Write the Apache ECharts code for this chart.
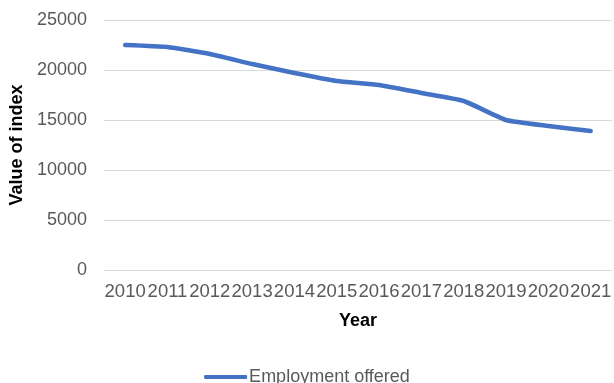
<!DOCTYPE html>
<html>
<head>
<meta charset="utf-8">
<script src="https://cdn.jsdelivr.net/npm/echarts@6/dist/echarts.min.js"></script>
<style>html,body{margin:0;padding:0;background:#fff}#c{width:614px;height:383px}</style>
</head>
<body>
<div id="c"></div>
<script>
var years = ['2010','2011','2012','2013','2014','2015','2016','2017','2018','2019','2020','2021'];
var employmentOffered = [22500, 22300, 21600, 20600, 19700, 18900, 18500, 17700, 16900, 15000, 14400, 13900];
var seriesName = 'Employment offered';
var yMin = 0, yMax = 25000, yStep = 5000;

var chart = echarts.init(document.getElementById('c'));
chart.setOption({
  animation: false,
  textStyle: { fontFamily: 'Liberation Sans, Arial, sans-serif' },
  grid: { left: 104, right: -4, top: 20, bottom: 113, containLabel: false },
  legend: {
    data: [{ name: seriesName, icon: 'roundRect' }],
    left: 'center',
    top: 363,
    itemWidth: 43,
    itemHeight: 4,
    textStyle: { fontSize: 18, color: '#595959', fontFamily: 'Liberation Sans, Arial, sans-serif', padding: [0, 0, 0, -3] }
  },
  xAxis: {
    type: 'category',
    data: years,
    boundaryGap: true,
    name: 'Year',
    nameLocation: 'middle',
    nameGap: 42,
    nameTextStyle: { fontSize: 18, fontWeight: 'bold', color: '#000', fontFamily: 'Liberation Sans, Arial, sans-serif' },
    axisLine: { show: true, lineStyle: { color: '#d9d9d9', width: 1 } },
    axisTick: { show: false },
    axisLabel: { interval: 0, fontSize: 18.5, color: '#595959', margin: 12, fontFamily: 'Liberation Sans, Arial, sans-serif' }
  },
  yAxis: {
    type: 'value',
    min: yMin, max: yMax, interval: yStep,
    name: 'Value of index',
    nameLocation: 'middle',
    nameGap: 70,
    nameTextStyle: { fontSize: 18, fontWeight: 'bold', color: '#000', fontFamily: 'Liberation Sans, Arial, sans-serif' },
    axisLine: { show: false },
    axisTick: { show: false },
    axisLabel: { fontSize: 18, color: '#595959', margin: 17, formatter: function (v) { return String(v); }, fontFamily: 'Liberation Sans, Arial, sans-serif' },
    splitLine: { lineStyle: { color: '#d9d9d9', width: 1 } }
  },
  series: [{
    name: seriesName,
    type: 'line',
    data: employmentOffered,
    smooth: 0.15,
    showSymbol: false,
    symbol: 'none',
    itemStyle: { color: '#4472c4' },
    lineStyle: { color: '#4472c4', width: 4.5, cap: 'round', join: 'round' }
  }]
});
</script>
</body>
</html>
